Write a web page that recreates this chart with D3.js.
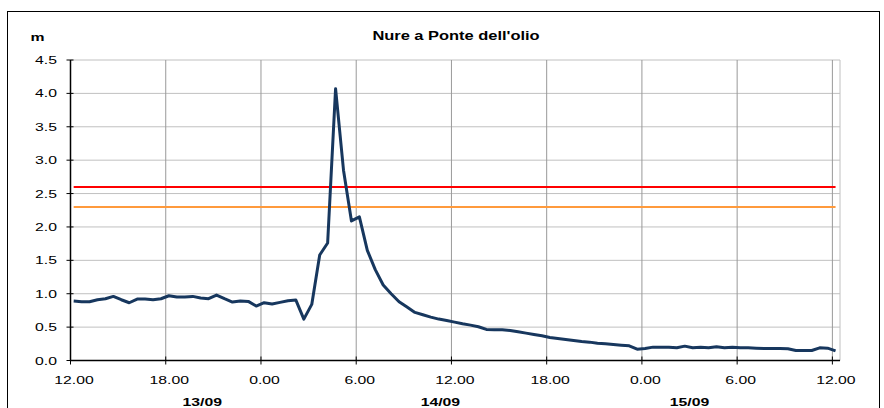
<!DOCTYPE html>
<html>
<head>
<meta charset="utf-8">
<script src="https://cdn.jsdelivr.net/npm/d3@7"></script>
<style>
  html, body { margin: 0; padding: 0; background: #fff; }
  svg { display: block; font-family: "Liberation Sans", Arial, sans-serif; }
</style>
</head>
<body>
<svg id="chart" width="884" height="408"></svg>
<script>
// ---- data ----
const title = "Nure a Ponte dell'olio";
const unitLabel = "m";
// hours since 12:00 on 13/09 of the first reading, and reading interval (hours)
const startHour = 0.2;
const stepHours = 0.5;
const levels = [
  0.89, 0.88, 0.88, 0.91, 0.925, 0.96, 0.91, 0.865, 0.92, 0.92, 0.91, 0.925, 0.97, 0.95, 0.95, 0.96,
  0.935, 0.925, 0.98, 0.925, 0.875, 0.89, 0.885, 0.815, 0.865, 0.845, 0.87, 0.895, 0.905, 0.62, 0.84,
  1.58, 1.76, 4.07, 2.85, 2.09, 2.15, 1.65, 1.36, 1.13, 1.0, 0.88, 0.80, 0.72, 0.685, 0.65, 0.62, 0.60,
  0.575, 0.55, 0.53, 0.505, 0.465, 0.46, 0.46, 0.45, 0.43, 0.41, 0.39,
  0.37, 0.345, 0.33, 0.315, 0.30, 0.285, 0.275, 0.26, 0.25, 0.24, 0.23, 0.22, 0.17, 0.18, 0.20, 0.20,
  0.20, 0.19, 0.215, 0.19, 0.20, 0.19, 0.205, 0.19, 0.20, 0.19, 0.19, 0.185, 0.18, 0.18, 0.18, 0.175,
  0.15, 0.15, 0.15, 0.19, 0.185, 0.145
];
const thresholdRed = 2.6;
const thresholdOrange = 2.3;
const xTickHours = [0, 6, 12, 18, 24, 30, 36, 42, 48];
const xTickLabels = ["12.00", "18.00", "0.00", "6.00", "12.00", "18.00", "0.00", "6.00", "12.00"];
const dateLabels = ["13/09", "14/09", "15/09"];
const dateLabelHours = [8.3, 23.3, 39.0];
const yTicks = [0, 0.5, 1.0, 1.5, 2.0, 2.5, 3.0, 3.5, 4.0, 4.5];

// ---- layout ----
const svg = d3.select("#chart");
const plotLeft = 70.5, plotRight = 840, plotTop = 60, plotBottom = 360.5;
const x = d3.scaleLinear().domain([0, 48.48]).range([plotLeft, plotRight]);
const y = d3.scaleLinear().domain([0, 4.5]).range([plotBottom, plotTop]);
const SX = 1.37; // horizontal text stretch of the original image

const points = levels.map((v, i) => ({ t: startHour + i * stepHours, v }));
const tFirst = points[0].t, tLast = points[points.length - 1].t;

// outer border
svg.append("rect").attr("x", 7.5).attr("y", 11.5).attr("width", 872).attr("height", 420)
  .attr("fill", "none").attr("stroke", "#000").attr("stroke-width", 1);

function stretchedText(g, px, py, txt, anchor, size, weight) {
  return g.append("text")
    .attr("transform", `translate(${px},${py}) scale(${SX},1)`)
    .attr("text-anchor", anchor)
    .attr("font-size", size)
    .attr("font-weight", weight || "normal")
    .attr("fill", "#000")
    .text(txt);
}

// horizontal gridlines
svg.append("g").selectAll("line").data(yTicks.filter(d => d > 0)).join("line")
  .attr("x1", plotLeft).attr("x2", plotRight)
  .attr("y1", d => y(d)).attr("y2", d => y(d))
  .attr("stroke", "#c0c0c0").attr("stroke-width", 1);

// vertical gridlines
svg.append("g").selectAll("line").data(xTickHours.slice(1)).join("line")
  .attr("x1", d => x(d)).attr("x2", d => x(d))
  .attr("y1", plotTop).attr("y2", plotBottom)
  .attr("stroke", "#999").attr("stroke-width", 1);

// right plot border
svg.append("line").attr("x1", plotRight).attr("x2", plotRight).attr("y1", plotTop).attr("y2", plotBottom)
  .attr("stroke", "#c0c0c0").attr("stroke-width", 1);

// threshold lines
const thr = d3.line().x(d => x(d[0])).y(d => y(d[1]));
svg.append("path").attr("d", thr([[tFirst, thresholdRed], [tLast, thresholdRed]]))
  .attr("stroke", "#ff0000").attr("stroke-width", 2).attr("fill", "none");
svg.append("path").attr("d", thr([[tFirst, thresholdOrange], [tLast, thresholdOrange]]))
  .attr("stroke", "#ff9a3c").attr("stroke-width", 2).attr("fill", "none");

// axes lines
svg.append("line").attr("x1", plotLeft).attr("x2", plotLeft).attr("y1", plotTop).attr("y2", plotBottom)
  .attr("stroke", "#000").attr("stroke-width", 1.5);
svg.append("line").attr("x1", plotLeft).attr("x2", plotRight).attr("y1", plotBottom).attr("y2", plotBottom)
  .attr("stroke", "#000").attr("stroke-width", 1.5);

// y ticks & labels
const yg = svg.append("g");
yg.selectAll("line").data(yTicks).join("line")
  .attr("x1", plotLeft - 4).attr("x2", plotLeft + 3)
  .attr("y1", d => y(d)).attr("y2", d => y(d))
  .attr("stroke", "#000").attr("stroke-width", 1);
yTicks.forEach(d => stretchedText(yg, 57, y(d) + 4, d.toFixed(1), "end", 11.5));

// x ticks & labels
const xg = svg.append("g");
xg.selectAll("line").data(xTickHours).join("line")
  .attr("x1", d => x(d)).attr("x2", d => x(d))
  .attr("y1", plotBottom - 4).attr("y2", plotBottom + 4)
  .attr("stroke", "#000").attr("stroke-width", 1);
xTickHours.forEach((h, i) => stretchedText(xg, x(h) + 3.5, 384, xTickLabels[i], "middle", 11.5));
dateLabels.forEach((lab, i) => stretchedText(xg, x(dateLabelHours[i]), 406, lab, "middle", 11.5, "bold"));

// title and unit
stretchedText(svg, 456, 40, title, "middle", 12, "bold");
stretchedText(svg, 37.5, 41, unitLabel, "middle", 11.5, "bold");

// data line
const line = d3.line().x(d => x(d.t)).y(d => y(d.v));
svg.append("path").datum(points).attr("d", line)
  .attr("fill", "none").attr("stroke", "#17375e").attr("stroke-width", 3)
  .attr("stroke-linejoin", "round");
</script>
</body>
</html>
